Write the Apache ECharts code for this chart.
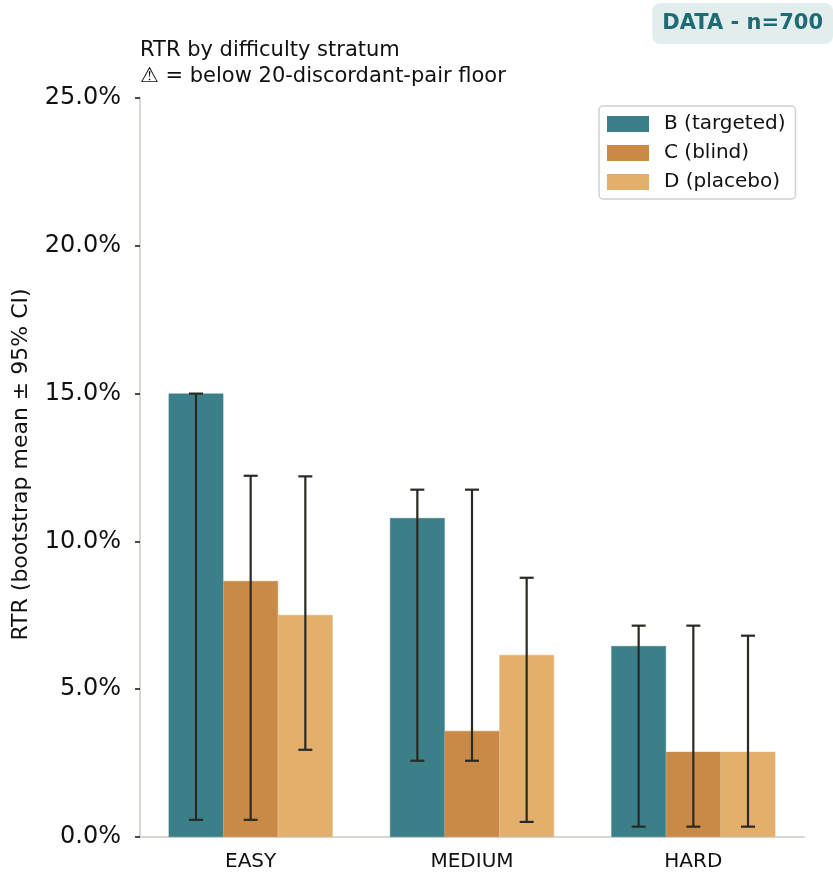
<!DOCTYPE html>
<html>
<head>
<meta charset="utf-8">
<script src="https://cdn.jsdelivr.net/npm/echarts@6/dist/echarts.min.js"></script>
<style>html,body{margin:0;padding:0;background:#fff;}#chart{width:833px;height:879px;}</style>
</head>
<body>
<div id="chart"></div>
<script>
const categories = ['EASY', 'MEDIUM', 'HARD'];
const seriesNames = ['B (targeted)', 'C (blind)', 'D (placebo)'];
const meanB = [0.1500, 0.1079, 0.0646];
const meanC = [0.0866, 0.0359, 0.0288];
const meanD = [0.0751, 0.0616, 0.0288];
const lowB = [0.0058, 0.0258, 0.0035];
const highB = [0.1500, 0.1175, 0.0715];
const lowC = [0.0058, 0.0258, 0.0035];
const highC = [0.1222, 0.1175, 0.0715];
const lowD = [0.0295, 0.0051, 0.0035];
const highD = [0.1220, 0.0877, 0.0681];
const yTicks = [0, 0.05, 0.10, 0.15, 0.20, 0.25];
const colors = ['#3b8088', '#c98a48', '#e3af6c'];

const means = [meanB, meanC, meanD];
const lows = [lowB, lowC, lowD];
const highs = [highB, highC, highD];
const BAR_FRAC = 0.247;
const TXT = '#111111';

const chart = echarts.init(document.getElementById('chart'), null, {renderer: 'canvas'});

const barSeries = seriesNames.map((name, i) => ({
  name: name,
  type: 'bar',
  data: means[i],
  barWidth: (BAR_FRAC * 100) + '%',
  barGap: '0%',
  itemStyle: {color: colors[i], borderColor: colors[i], borderWidth: 0.5},
  z: 2
}));

const errSeries = seriesNames.map((name, i) => ({
  name: name + ' CI',
  type: 'custom',
  z: 5,
  data: categories.map((c, k) => [k, lows[i][k], highs[i][k]]),
  renderItem: function (params, api) {
    const idx = api.value(0);
    const band = api.size([1, 0])[0];
    const off = (i - 1) * band * BAR_FRAC;
    const top = api.coord([idx, api.value(2)]);
    const bot = api.coord([idx, api.value(1)]);
    const x = top[0] + off;
    const cap = 7;
    const style = {stroke: '#2a2a24', lineWidth: 2.2};
    return {
      type: 'group',
      children: [
        {type: 'line', shape: {x1: x, y1: top[1], x2: x, y2: bot[1]}, style: style},
        {type: 'line', shape: {x1: x - cap, y1: top[1], x2: x + cap, y2: top[1]}, style: style},
        {type: 'line', shape: {x1: x - cap, y1: bot[1], x2: x + cap, y2: bot[1]}, style: style}
      ]
    };
  }
}));

const option = {
  animation: false,
  backgroundColor: '#ffffff',
  textStyle: {fontFamily: 'DejaVu Sans'},
  title: [
    {
      text: 'RTR by difficulty stratum\n\u26A0 = below 20-discordant-pair floor',
      left: 140, top: 38,
      padding: 0,
      textStyle: {fontFamily: 'DejaVu Sans', fontSize: 21, fontWeight: 'normal', color: TXT, lineHeight: 26}
    },
    {
      text: 'DATA - n=700',
      right: 0, top: 3,
      padding: [10, 10, 9, 10],
      backgroundColor: '#e2eeee',
      borderRadius: 8,
      textStyle: {fontFamily: 'DejaVu Sans', fontSize: 21, fontWeight: 'bold', color: '#1f6b73', lineHeight: 22}
    }
  ],
  legend: {
    data: seriesNames,
    orient: 'vertical',
    left: 599, top: 106,
    padding: [8, 10, 7, 8],
    itemWidth: 40, itemHeight: 14, itemGap: 9,
    icon: 'rect',
    backgroundColor: '#ffffff',
    borderColor: '#d0d0d0', borderWidth: 1.5, borderRadius: 4,
    textStyle: {fontFamily: 'DejaVu Sans', fontSize: 20, color: TXT, lineHeight: 20, padding: [0, 0, 0, 11]}
  },
  grid: {left: 140, right: 29, top: 98, bottom: 42, containLabel: false},
  xAxis: {
    type: 'category',
    data: categories,
    axisLine: {lineStyle: {color: '#d8d8d2', width: 2}},
    axisTick: {alignWithLabel: true, length: 5, lineStyle: {color: TXT, width: 1.5}},
    axisLabel: {fontFamily: 'DejaVu Sans', fontSize: 20, color: TXT, margin: 15}
  },
  yAxis: {
    type: 'value',
    min: yTicks[0], max: yTicks[yTicks.length - 1], interval: 0.05,
    name: 'RTR (bootstrap mean \u00B1 95% CI)',
    nameLocation: 'middle', nameGap: 108,
    nameTextStyle: {fontFamily: 'DejaVu Sans', fontSize: 22, color: TXT, padding: [0, 0, 0, 6]},
    axisLine: {show: true, lineStyle: {color: '#d8d8d2', width: 2}},
    axisTick: {show: true, length: 5, lineStyle: {color: TXT, width: 1.5}},
    splitLine: {show: false},
    axisLabel: {
      fontFamily: 'DejaVu Sans', fontSize: 24, color: TXT, margin: 19,
      formatter: v => (v * 100).toFixed(1) + '%'
    }
  },
  series: barSeries.concat(errSeries)
};
chart.setOption(option);
</script>
</body>
</html>
